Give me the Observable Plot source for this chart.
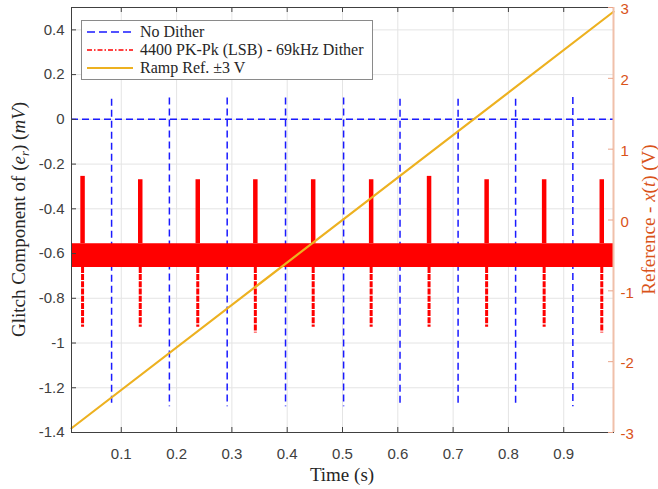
<!DOCTYPE html>
<html>
<head>
<meta charset="utf-8">
<script src="https://cdn.jsdelivr.net/npm/d3@7"></script>
<script src="https://cdn.jsdelivr.net/npm/@observablehq/plot@0.6"></script>
<style>
  html, body { margin: 0; padding: 0; background: #fff; }
  #chart { width: 658px; height: 489px; }
</style>
</head>
<body>
<div id="chart"></div>
<script>
// ---------- data ----------
const xDomain = [0.01, 0.99];
const yDomainLeft = [-1.4, 0.5];
const yDomainRight = [-3, 3];
const xTicks = [0.1, 0.2, 0.3, 0.4, 0.5, 0.6, 0.7, 0.8, 0.9];
const yTicksLeft = [-1.4, -1.2, -1, -0.8, -0.6, -0.4, -0.2, 0, 0.2, 0.4];
const yTicksRight = [-3, -2, -1, 0, 1, 2, 3];

// "No Dither" : flat at 0 with periodic glitches
const noDitherLevel = [0];
const noDitherSpikeT      = [0.0825, 0.187, 0.2915, 0.397, 0.502, 0.604, 0.709, 0.813, 0.9165];
const noDitherSpikeTop    = [0.09, 0.095, 0.095, 0.095, 0.095, 0.09, 0.09, 0.09, 0.098];
const noDitherSpikeBottom = [-1.275, -1.285, -1.285, -1.285, -1.285, -1.285, -1.285, -1.285, -1.285];

// "4400 PK-Pk (LSB) - 69kHz Dither" : noise band with periodic glitches
const ditherBandT    = [0.01, 0.99];
const ditherBandHigh = [-0.556, -0.556];
const ditherBandLow  = [-0.662, -0.662];
const ditherSpikeT      = [0.030, 0.1343, 0.2383, 0.3424, 0.447, 0.5518, 0.6565, 0.7606, 0.8646, 0.9688];
const ditherSpikeTop    = [-0.255, -0.27, -0.27, -0.27, -0.27, -0.27, -0.255, -0.27, -0.27, -0.27];
const ditherSpikeBottom = [-0.93, -0.93, -0.93, -0.955, -0.93, -0.93, -0.93, -0.93, -0.93, -0.955];

// "Ramp Ref. ±3 V" (right axis, volts)
const rampT = [0.01, 0.99];
const rampV = [-2.94, 2.94];

// ---------- helpers ----------
const W = 658, H = 489;
const mL = 71, mR = 45, mT = 7, mB = 57;
const innerW = W - mL - mR, innerH = H - mT - mB;
const toLeft = v => yDomainLeft[0] + (v - yDomainRight[0]) * (yDomainLeft[1] - yDomainLeft[0]) / (yDomainRight[1] - yDomainRight[0]);
const fromLeft = y => yDomainRight[0] + (y - yDomainLeft[0]) * (yDomainRight[1] - yDomainRight[0]) / (yDomainLeft[1] - yDomainLeft[0]);
const fmt = d => { const s = String(+(+d).toFixed(2)); return s === "-0" ? "0" : s; };

const blue = "#1a1aff", red = "#ff0000", gold = "#EDB120", orange = "#D95319";
const dark = "#404040";

const noDitherSpikes = noDitherSpikeT.map((t, i) => ({t, top: noDitherSpikeTop[i], bottom: noDitherSpikeBottom[i]}));
const ditherSpikes = ditherSpikeT.map((t, i) => ({t, top: ditherSpikeTop[i], bottom: ditherSpikeBottom[i], hi: ditherBandHigh[0], lo: ditherBandLow[0]}));
const band = ditherBandT.map((t, i) => ({t, hi: ditherBandHigh[i], lo: ditherBandLow[i]}));
const ramp = rampT.map((t, i) => ({t, v: toLeft(rampV[i])}));
const rightTicksL = yTicksRight.map(toLeft);

const plot = Plot.plot({
  width: W, height: H,
  marginLeft: mL, marginRight: mR, marginTop: mT, marginBottom: mB,
  style: {fontFamily: "'Liberation Sans', Arial, sans-serif", fontSize: "15px", background: "#fff", overflow: "visible"},
  x: {domain: xDomain},
  y: {domain: yDomainLeft},
  marks: [
    Plot.gridX(xTicks, {stroke: "#e4e4e4", strokeOpacity: 1}),
    Plot.gridY(yTicksLeft, {stroke: "#e4e4e4", strokeOpacity: 1}),
    // No Dither
    Plot.ruleY(noDitherLevel, {stroke: blue, strokeWidth: 1.5, strokeDasharray: "7,4"}),
    Plot.ruleX(noDitherSpikes, {x: "t", y1: "top", y2: "bottom", stroke: blue, strokeWidth: 1.5, strokeDasharray: "7,4"}),
    // Dither
    Plot.areaY(band, {x: "t", y1: "lo", y2: "hi", fill: red}),
    Plot.ruleX(ditherSpikes, {x: "t", y1: "hi", y2: "top", stroke: red, strokeWidth: 4.5}),
    Plot.ruleX(ditherSpikes, {x: "t", y1: "lo", y2: "bottom", stroke: red, strokeWidth: 3, strokeDasharray: "6,1.2"}),
    // Ramp
    Plot.line(ramp, {x: "t", y: "v", stroke: gold, strokeWidth: 2.2}),
    // frame
    Plot.frame({stroke: dark, strokeWidth: 1}),
    Plot.ruleX([xDomain[1]], {stroke: "#f0c0aa", strokeWidth: 2}),
    // inward ticks
    Plot.tickX(xTicks, {stroke: dark, insetTop: innerH - 5}),
    Plot.tickX(xTicks, {stroke: dark, insetBottom: innerH - 5}),
    Plot.tickY(yTicksLeft, {stroke: dark, insetRight: innerW - 5}),
    Plot.tickY(rightTicksL, {stroke: "#eaa58a", insetLeft: innerW - 5}),
    // tick labels
    Plot.axisX(xTicks, {tickSize: 0, tickPadding: 16, tickFormat: fmt, label: null, fill: "#404040", fontSize: 15}),
    Plot.axisY(yTicksLeft, {anchor: "left", tickSize: 0, tickPadding: 7, tickFormat: fmt, label: null, fill: "#404040", fontSize: 15}),
    Plot.axisY(rightTicksL, {anchor: "right", tickSize: 0, tickPadding: 7, dy: 2, tickFormat: d => fmt(Math.round(fromLeft(d))), label: null, fill: orange, fontSize: 15})
  ]
});
document.getElementById("chart").appendChild(plot);

// ---------- axis titles & legend ----------
const svg = d3.select(plot);
const serif = "'Liberation Serif', 'Times New Roman', serif";

svg.append("text")
  .attr("x", mL + innerW / 2).attr("y", 481)
  .attr("text-anchor", "middle").attr("font-family", serif).attr("font-size", 19).attr("fill", "#262626")
  .text("Time (s)");

const yl = svg.append("text")
  .attr("transform", `translate(25,${mT + innerH / 2}) rotate(-90)`)
  .attr("text-anchor", "middle").attr("font-family", serif).attr("font-size", 19).attr("fill", "#262626");
yl.append("tspan").text("Glitch Component of (");
yl.append("tspan").attr("font-style", "italic").text("e");
yl.append("tspan").attr("font-style", "italic").attr("font-size", 13).attr("dy", 4).text("r");
yl.append("tspan").attr("dy", -4).text(") (");
yl.append("tspan").attr("font-style", "italic").text("mV");
yl.append("tspan").text(")");

const yr = svg.append("text")
  .attr("transform", `translate(655,${mT + innerH / 2}) rotate(-90)`)
  .attr("text-anchor", "middle").attr("font-family", serif).attr("font-size", 19).attr("fill", orange);
yr.append("tspan").text("Reference - ");
yr.append("tspan").attr("font-style", "italic").text("x");
yr.append("tspan").text("(");
yr.append("tspan").attr("font-style", "italic").text("t");
yr.append("tspan").text(") (V)");

const legendItems = [
  {label: "No Dither", stroke: blue, width: 1.5, dash: "8,4"},
  {label: "4400 PK-Pk (LSB) - 69kHz Dither", stroke: red, width: 1.5, dash: "5,2,1.5,2"},
  {label: "Ramp Ref. \u00B13 V", stroke: gold, width: 2, dash: null}
];
const lg = svg.append("g");
lg.append("rect").attr("x", 81.5).attr("y", 20.5).attr("width", 291).attr("height", 59)
  .attr("fill", "#fff").attr("stroke", "#8a8a8a").attr("stroke-width", 1);
legendItems.forEach((d, i) => {
  const cy = 32 + i * 18;
  lg.append("line").attr("x1", 87).attr("x2", 133).attr("y1", cy).attr("y2", cy)
    .attr("stroke", d.stroke).attr("stroke-width", d.width).attr("stroke-dasharray", d.dash);
  lg.append("text").attr("x", 140).attr("y", cy + 5).attr("text-anchor", "start")
    .attr("font-family", serif).attr("font-size", 16)
    .attr("fill", "#262626").text(d.label);
});
</script>
</body>
</html>
